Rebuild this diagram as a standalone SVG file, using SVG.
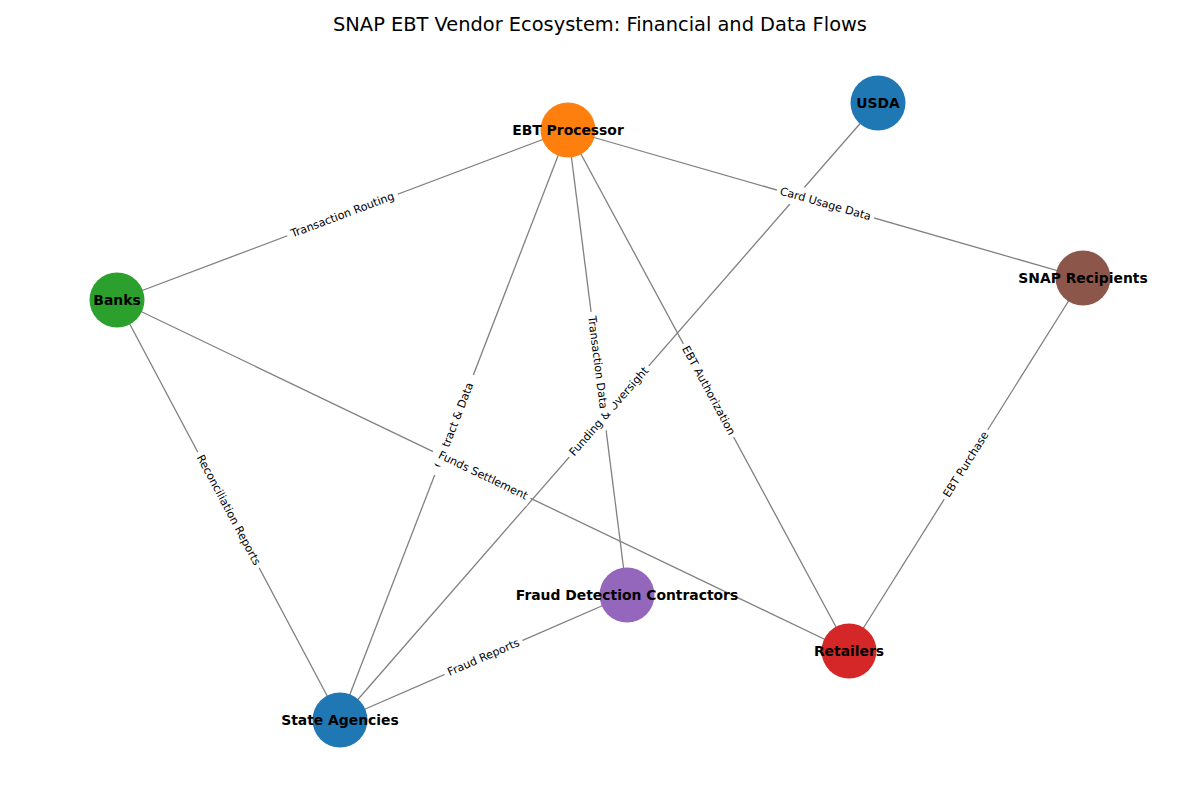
<svg xmlns="http://www.w3.org/2000/svg" width="1200" height="800" viewBox="0 0 1200 800">
<style>
.edge{stroke:#808080;stroke-width:1.3;fill:none}
.el rect{fill:#fff;stroke:none}
.el text{font-family:"DejaVu Sans",sans-serif;font-size:11.1px;fill:#000;text-anchor:middle;dominant-baseline:central}
.nl{font-family:"DejaVu Sans",sans-serif;font-size:13.9px;font-weight:bold;fill:#000;text-anchor:middle;dominant-baseline:central}
.title{font-family:"DejaVu Sans",sans-serif;font-size:19.4px;fill:#000;text-anchor:middle}
</style>
<rect width="1200" height="800" fill="#fff"/>
<text class="title" x="600" y="31">SNAP EBT Vendor Ecosystem: Financial and Data Flows</text>
<g id="connectors">
<line class="edge" x1="568" y1="130" x2="117" y2="300"/>
<line class="edge" x1="568" y1="130" x2="1083" y2="278"/>
<line class="edge" x1="568" y1="130" x2="340" y2="720"/>
<line class="edge" x1="568" y1="130" x2="627" y2="595"/>
<line class="edge" x1="568" y1="130" x2="849" y2="651"/>
<line class="edge" x1="878" y1="103" x2="340" y2="720"/>
<line class="edge" x1="117" y1="300" x2="340" y2="720"/>
<line class="edge" x1="117" y1="300" x2="849" y2="651"/>
<line class="edge" x1="1083" y1="278" x2="849" y2="651"/>
<line class="edge" x1="627" y1="595" x2="340" y2="720"/>
</g>
<g id="nodes">
<g id="node-ebt"><circle cx="568" cy="130" r="27.5" fill="#ff7f0e"/></g>
<g id="node-usda"><circle cx="878" cy="103" r="27.5" fill="#1f77b4"/></g>
<g id="node-banks"><circle cx="117" cy="300" r="27.5" fill="#2ca02c"/></g>
<g id="node-snap"><circle cx="1083" cy="278" r="27.5" fill="#8c564b"/></g>
<g id="node-fraud"><circle cx="627" cy="595" r="27.5" fill="#9467bd"/></g>
<g id="node-retailers"><circle cx="849" cy="651" r="27.5" fill="#d62728"/></g>
<g id="node-state"><circle cx="340" cy="720" r="27.5" fill="#1f77b4"/></g>
</g>
<g id="edge-labels">
<g class="el" transform="translate(342.5,215) rotate(-20.65)"><rect x="-59" y="-10" width="118" height="20" rx="3"/><text>Transaction Routing</text></g>
<g class="el" transform="translate(825.5,204) rotate(16.03)"><rect x="-50.5" y="-10" width="101" height="20" rx="3"/><text>Card Usage Data</text></g>
<g class="el" transform="translate(454,425) rotate(-68.87)"><rect x="-53.5" y="-10" width="107" height="20" rx="3"/><text>Contract &amp; Data</text></g>
<g class="el" transform="translate(708.5,390.5) rotate(61.66)"><rect x="-53" y="-10" width="106" height="20" rx="3"/><text>EBT Authorization</text></g>
<g class="el" transform="translate(609,411.5) rotate(-48.92)"><rect x="-60.5" y="-10" width="121" height="20" rx="3"/><text>Funding &amp; Oversight</text></g>
<g class="el" transform="translate(597.5,362.5) rotate(82.77)"><rect x="-51" y="-10" width="102" height="20" rx="3"/><text>Transaction Data</text></g>
<g class="el" transform="translate(228.5,510) rotate(62.03)"><rect x="-65.5" y="-10" width="131" height="20" rx="3"/><text>Reconciliation Reports</text></g>
<g class="el" transform="translate(483,475.5) rotate(25.62)"><rect x="-52.5" y="-10" width="105" height="20" rx="3"/><text>Funds Settlement</text></g>
<g class="el" transform="translate(966,464.5) rotate(-57.9)"><rect x="-41" y="-10" width="82" height="20" rx="3"/><text>EBT Purchase</text></g>
<g class="el" transform="translate(483.5,657.5) rotate(-23.53)"><rect x="-42.5" y="-10" width="85" height="20" rx="3"/><text>Fraud Reports</text></g>
</g>
<g id="node-labels">
<text class="nl" x="568" y="130">EBT Processor</text>
<text class="nl" x="878" y="103">USDA</text>
<text class="nl" x="117" y="300">Banks</text>
<text class="nl" x="1083" y="278">SNAP Recipients</text>
<text class="nl" x="627" y="595">Fraud Detection Contractors</text>
<text class="nl" x="849" y="651">Retailers</text>
<text class="nl" x="340" y="720">State Agencies</text>
</g>
</svg>
